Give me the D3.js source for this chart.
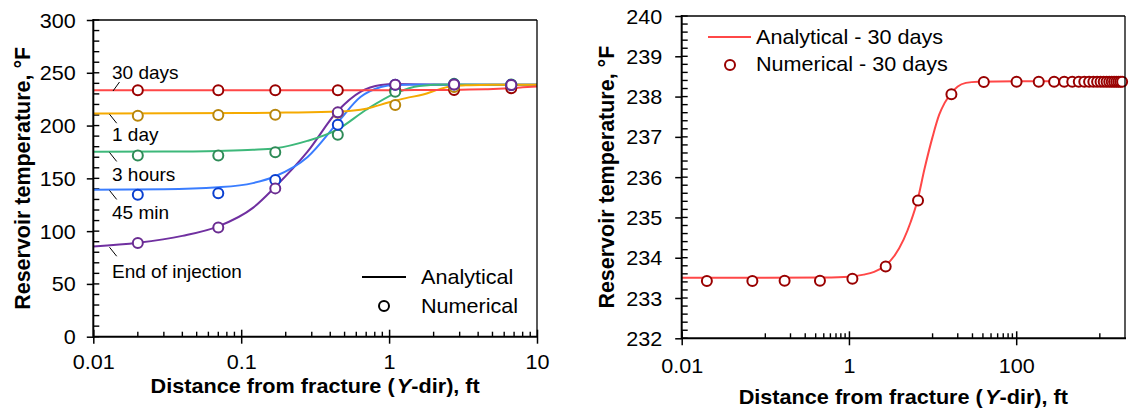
<!DOCTYPE html>
<html>
<head>
<meta charset="utf-8">
<script src="https://cdn.jsdelivr.net/npm/d3@7"></script>
<style>
body { margin: 0; background: #fff; }
svg { font-family: "Liberation Sans", Arial, sans-serif; }
</style>
</head>
<body>
<svg id="chart" width="1130" height="410"></svg>
<script>
// ---------- data ----------
// numerical sample positions, ft
const sampleX = [0.02, 0.07, 0.17, 0.45, 1.1, 2.75, 6.7];

// end of injection
const eoiX = [0.01, 0.02, 0.04, 0.07, 0.12, 0.17, 0.28, 0.45, 0.64, 0.88, 1.1, 1.6, 3, 10];
const eoiY = [85.5, 89, 95.5, 104.5, 122, 142, 175, 214, 232, 238.4, 239.3, 239, 238.7, 238.6];
const eoiNum = [88.7, 103.5, 140.5, 212.5, 238.6, 238.8, 238.5];

// 45 min
const m45X = [0.01, 0.03, 0.07, 0.12, 0.17, 0.28, 0.45, 0.64, 0.88, 1.1, 1.6, 3, 10];
const m45Y = [139.3, 139.6, 141.5, 145.5, 152, 170, 203, 227, 236.5, 238.5, 238.8, 238.7, 238.6];
const m45Num = [134.5, 135.9, 148.5, 200.7, 238.6, 238.8, 238.5];

// 3 hours
const h3X = [0.01, 0.03, 0.07, 0.12, 0.17, 0.28, 0.45, 0.7, 1.1, 1.6, 2.5, 10];
const h3Y = [175.3, 175.4, 176, 177, 178.5, 185.5, 196.5, 215, 230.5, 237.5, 238.8, 238.6];
const h3Num = [171.6, 171.7, 174.8, 191.4, 232, 239.5, 238.8];

// 1 day
const d1X = [0.01, 0.1, 0.2, 0.45, 0.7, 1.0, 1.3, 1.7, 2.2, 2.7, 3.5, 5, 10];
const d1Y = [211.5, 211.8, 212.3, 213.3, 216, 222, 226, 229.5, 234.5, 237.5, 238.2, 238.6, 238.7];
const d1Num = [209.4, 210.1, 210.3, 212.2, 219.5, 236.5, 238.5];

// 30 days (both panels)
const d30X = [0.01, 0.1, 0.5, 1, 1.5, 2, 2.7, 3.5, 4.5, 5.5, 6.6, 8, 10, 12, 14, 17, 20, 25, 35, 100, 2000];
const d30Y = [233.5, 233.5, 233.51, 233.53, 233.58, 233.65, 233.8, 234.05, 234.45, 234.9, 235.42, 236.2, 237.0, 237.55, 237.85, 238.1, 238.25, 238.34, 238.37, 238.38, 238.38];
const d30NumX = [0.02, 0.07, 0.17, 0.45, 1.1, 2.75, 6.7, 16.8, 41, 101, 186, 284, 375, 468, 560, 652, 744, 836, 928, 1020, 1112, 1204, 1296, 1388, 1480, 1572, 1664, 1756, 1848];
const d30NumY = [233.42, 233.42, 233.43, 233.43, 233.48, 233.78, 235.42, 238.06, 238.36, 238.37, 238.37, 238.37, 238.37, 238.37, 238.37, 238.37, 238.37, 238.37, 238.37, 238.37, 238.37, 238.37, 238.37, 238.37, 238.37, 238.37, 238.37, 238.37, 238.37];

// axis ticks
const leftXTicks = [0.01, 0.1, 1, 10];
const leftXLabels = ["0.01", "0.1", "1", "10"];
const leftXMinorMult = [2, 3, 4, 5, 6, 7, 8, 9];
const leftYTicks = [0, 50, 100, 150, 200, 250, 300];
const rightXTicks = [0.01, 1, 100];
const rightXLabels = ["0.01", "1", "100"];
const rightXMinorMult = [10, 20, 30, 40, 50, 60, 70, 80, 90];
const rightYTicks = [232, 233, 234, 235, 236, 237, 238, 239, 240];

const svg = d3.select("#chart");

// stretch a text horizontally around its own anchor point
function stretch(sel, k) {
	sel.each(function() {
		const t = d3.select(this);
		const x = +t.attr("x") || 0, y = +t.attr("y") || 0;
		t.attr("transform", `translate(${x},${y}) scale(${k},1) translate(${-x},${-y})`);
	});
}

function drawPanel(p) {
	const x = d3.scaleLog().domain(p.xDomain).range([p.left, p.right]);
	const y = d3.scaleLinear().domain(p.yDomain).range([p.bottom, p.top]);
	const g = svg.append("g");

	svg.append("clipPath").attr("id", "clip" + p.id)
		.append("rect")
		.attr("x", p.left).attr("y", p.top)
		.attr("width", p.right - p.left).attr("height", p.bottom - p.top);

	// minor ticks, inside the plot
	const xMinor = p.xTicks.flatMap(m => p.xMinorMult.map(k => m * k))
		.filter(v => v > p.xDomain[0] * 1.0001 && v < p.xDomain[1] * 0.9999 && !p.xTicks.some(t => Math.abs(t - v) / t < 1e-6));
	g.selectAll(".xminor").data(xMinor).enter().append("line")
		.attr("x1", d => x(d)).attr("x2", d => x(d))
		.attr("y1", p.bottom).attr("y2", p.bottom - 5)
		.attr("stroke", "#000").attr("stroke-width", 1.4);
	const yMinor = d3.range(p.yDomain[0], p.yDomain[1] + p.yMinor / 2, p.yMinor);
	g.selectAll(".yminor").data(yMinor).enter().append("line")
		.attr("x1", p.left).attr("x2", p.left + 6)
		.attr("y1", d => y(d)).attr("y2", d => y(d))
		.attr("stroke", "#000").attr("stroke-width", 1.4);

	// analytical lines
	const line = d3.line().x(d => x(d[0])).y(d => y(d[1])).curve(d3.curveMonotoneX);
	p.series.forEach(s => {
		g.append("path")
			.datum(s.lx.map((v, i) => [v, s.ly[i]]))
			.attr("clip-path", `url(#clip${p.id})`)
			.attr("fill", "none")
			.attr("stroke", s.line)
			.attr("stroke-width", 2)
			.attr("d", line);
	});

	// numerical points
	p.series.slice().reverse().forEach(s => {
		const pts = s.nx.map((v, i) => [v, s.ny[i]]).filter(d => d[0] <= p.xDomain[1]);
		g.selectAll(null).data(pts).enter().append("circle")
			.attr("cx", d => x(d[0])).attr("cy", d => y(d[1]))
			.attr("r", 5)
			.attr("fill", "#fff")
			.attr("stroke", s.mark)
			.attr("stroke-width", 2);
	});

	// frame
	g.append("line").attr("x1", p.left).attr("x2", p.right).attr("y1", p.top).attr("y2", p.top)
		.attr("stroke", "#000").attr("stroke-width", 1.3);
	g.append("line").attr("x1", p.right).attr("x2", p.right).attr("y1", p.top).attr("y2", p.bottom)
		.attr("stroke", "#000").attr("stroke-width", 1.3);
	g.append("line").attr("x1", p.left).attr("x2", p.right + 1).attr("y1", p.bottom).attr("y2", p.bottom)
		.attr("stroke", "#000").attr("stroke-width", 2);
	g.append("line").attr("x1", p.left).attr("x2", p.left).attr("y1", p.top - 1).attr("y2", p.bottom + 1)
		.attr("stroke", "#000").attr("stroke-width", 2);

	// x axis: major ticks cross the axis
	const xAxis = d3.axisBottom(x).tickValues(p.xTicks)
		.tickFormat((d, i) => p.xLabels[i]).tickSizeOuter(0).tickSizeInner(7).tickPadding(0);
	const gx = g.append("g").attr("transform", `translate(0,${p.bottom})`).call(xAxis);
	gx.select(".domain").remove();
	gx.selectAll(".tick line").attr("y1", -7).attr("stroke-width", 1.5);
	gx.selectAll("text").attr("dy", null).attr("y", p.xLabelY)
		.attr("font-size", 20).attr("fill", "#000");
	stretch(gx.selectAll("text"), 1.08);

	// y axis: major ticks outside
	const yAxis = d3.axisLeft(y).tickValues(p.yTicks).tickSizeOuter(0).tickSizeInner(6.5).tickPadding(p.yPad);
	const gy = g.append("g").attr("transform", `translate(${p.left},0)`).call(yAxis);
	gy.select(".domain").remove();
	gy.selectAll(".tick line").attr("stroke-width", 1.5);
	gy.selectAll("text").attr("dy", "0.35em").attr("font-size", 20).attr("fill", "#000");
	stretch(gy.selectAll("text"), 1.08);

	// axis titles
	const xt = svg.append("text")
		.attr("x", (p.left + p.right) / 2).attr("y", p.xTitleY)
		.attr("text-anchor", "middle").attr("font-weight", "bold").attr("font-size", 19.5);
	xt.append("tspan").text("Distance from fracture (");
	xt.append("tspan").attr("font-style", "italic").attr("dx", 2).text("Y");
	xt.append("tspan").text("-dir), ft");
	stretch(xt, 1.11);

	svg.append("g")
		.attr("transform", `translate(${p.yTitleX},${(p.top + p.bottom) / 2}) rotate(-90)`)
		.append("text")
		.attr("text-anchor", "middle").attr("font-weight", "bold").attr("font-size", 21.5)
		.attr("transform", "scale(1,1.06)")
		.text("Reservoir temperature, \u00B0F");

	return { x: x, y: y, g: g };
}

// ---------- left panel ----------
const leftSeries = [
	{ name: "End of injection", line: "#7030A0", mark: "#6A2C91", lx: eoiX, ly: eoiY, nx: sampleX, ny: eoiNum },
	{ name: "45 min", line: "#3A7DFF", mark: "#0A3FD0", lx: m45X, ly: m45Y, nx: sampleX, ny: m45Num },
	{ name: "3 hours", line: "#3DB87A", mark: "#2E8B57", lx: h3X, ly: h3Y, nx: sampleX, ny: h3Num },
	{ name: "1 day", line: "#F5AA00", mark: "#B8860B", lx: d1X, ly: d1Y, nx: sampleX, ny: d1Num },
	{ name: "30 days", line: "#FF4747", mark: "#990000", lx: d30X, ly: d30Y, nx: d30NumX, ny: d30NumY }
];

const L = drawPanel({
	id: "L", left: 93.3, right: 537, top: 20, bottom: 336.7,
	xDomain: [0.01, 10], yDomain: [0, 300],
	xTicks: leftXTicks, xLabels: leftXLabels, xMinorMult: leftXMinorMult,
	yTicks: leftYTicks, yMinor: 10, yPad: 11,
	xLabelY: 32.8, xTitleY: 393, yTitleX: 30,
	series: leftSeries
});

// curve labels with short leader lines
const leftLabels = [
	{ text: "30 days", dir: -1, base: -12.5 },
	{ text: "1 day", dir: 1, base: 27 },
	{ text: "3 hours", dir: 1, base: 28.5 },
	{ text: "45 min", dir: 1, base: 28.5 },
	{ text: "End of injection", dir: 1, base: 31 }
];
leftLabels.forEach(lb => {
	const s = leftSeries.find(d => d.name === lb.text);
	const y0 = L.y(s.ly[0]) + 0.8;
	const x0 = lb.dir < 0 ? 113 : 109.5;
	L.g.append("line")
		.attr("x1", x0).attr("y1", y0)
		.attr("x2", x0 + (lb.dir < 0 ? 6.5 : 7.2)).attr("y2", y0 + lb.dir * 9)
		.attr("stroke", "#000").attr("stroke-width", 1);
	L.g.append("text")
		.attr("x", 112).attr("y", y0 + lb.base)
		.attr("font-size", 19).attr("fill", "#000")
		.text(lb.text);
});

// left legend
const lgL = svg.append("g");
lgL.append("line").attr("x1", 362).attr("x2", 406).attr("y1", 277).attr("y2", 277)
	.attr("stroke", "#000").attr("stroke-width", 2);
lgL.append("circle").attr("cx", 384).attr("cy", 306).attr("r", 5)
	.attr("fill", "#fff").attr("stroke", "#000").attr("stroke-width", 2);
lgL.append("text").attr("x", 421).attr("y", 284).attr("font-size", 20).text("Analytical");
lgL.append("text").attr("x", 421).attr("y", 313).attr("font-size", 20).text("Numerical");
stretch(lgL.selectAll("text"), 1.08);

// ---------- right panel ----------
const R = drawPanel({
	id: "R", left: 681.7, right: 1125, top: 16, bottom: 338.3,
	xDomain: [0.01, 2000], yDomain: [232, 240],
	xTicks: rightXTicks, xLabels: rightXLabels, xMinorMult: rightXMinorMult,
	yTicks: rightYTicks, yMinor: 0.2, yPad: 13,
	xLabelY: 35, xTitleY: 404, yTitleX: 614,
	series: [{ name: "30 days", line: "#FF4747", mark: "#990000", lx: d30X, ly: d30Y, nx: d30NumX, ny: d30NumY }]
});

const lgR = svg.append("g");
lgR.append("line").attr("x1", 708).attr("x2", 751).attr("y1", 37).attr("y2", 37)
	.attr("stroke", "#FF4747").attr("stroke-width", 2);
lgR.append("circle").attr("cx", 730).attr("cy", 65).attr("r", 5)
	.attr("fill", "#fff").attr("stroke", "#990000").attr("stroke-width", 2);
lgR.append("text").attr("x", 756).attr("y", 44).attr("font-size", 20).text("Analytical - 30 days");
lgR.append("text").attr("x", 756).attr("y", 71).attr("font-size", 20).text("Numerical - 30 days");
stretch(lgR.selectAll("text"), 1.08);
</script>
</body>
</html>
